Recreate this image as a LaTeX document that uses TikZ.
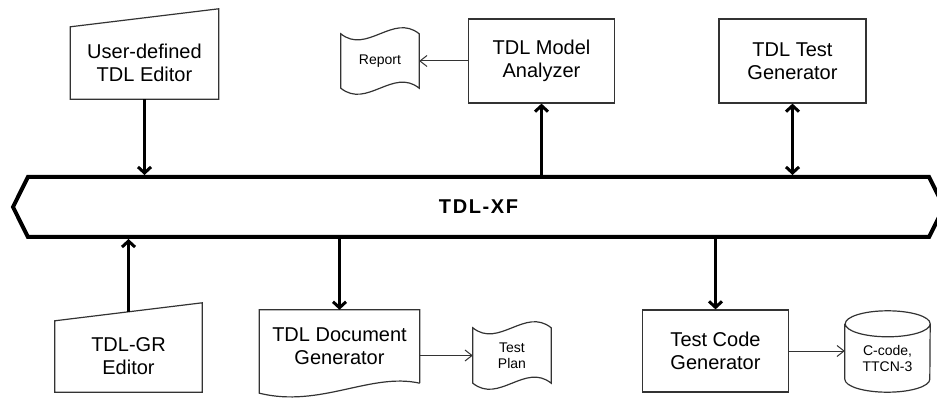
\documentclass[tikz,border=0pt]{standalone}
\usepackage{fontspec}
\setmainfont{Liberation Sans}
\usetikzlibrary{arrows.meta,shapes.symbols,calc}

\begin{document}
\begin{tikzpicture}[x=1pt,y=-1pt,
    boxtext/.style={align=center, font=\fontsize{20}{23}\selectfont},
    smalltext/.style={align=center, font=\fontsize{14}{16}\selectfont},
    outline/.style={draw=black!80, line width=1.2pt},
    box/.style={boxtext, outline},
    bigarrow/.style={line width=3pt, >={Straight Barb[length=6pt,width=13pt]}},
    thinarrow/.style={line width=1pt, black!80, >={Straight Barb[length=7pt,width=11pt]}}]

    \useasboundingbox (0,0) rectangle (937,398);

    % the bus
    \node[signal, signal to=west and east, signal pointer angle=127, draw, line width=4pt,
        minimum width=931pt, minimum height=60pt,
        font=\bfseries\fontsize{20}{23}\selectfont\addfontfeature{LetterSpace=8}] (bus) at (478.5,207) {TDL-XF};

    % top row
    \node[boxtext, minimum width=148pt, minimum height=72pt] (ued) at (144.5,63) {User-defined\\TDL Editor};
    \draw[outline] (ued.south west) -- (ued.south east) -- ($(ued.north east)+(0,-18)$) -- (ued.north west) -- cycle;
    \node[smalltext, minimum width=78pt, minimum height=54pt] (rep) at (380,61) {Report};
    \draw[outline] (rep.north west) .. controls +(26,21) and +(-26,-21) .. (rep.north east) -- (rep.south east)
        .. controls +(-26,-21) and +(26,21) .. (rep.south west) -- cycle;
    \node[box, minimum width=146pt, minimum height=84pt] (tma) at (541.5,61) {TDL Model\\Analyzer};
    \node[box, minimum width=147pt, minimum height=84pt] (ttg) at (792.5,61) {TDL Test\\Generator};

    % bottom row
    \node[boxtext, minimum width=147pt, minimum height=71pt] (gre) at (128.5,356.5) {TDL-GR\\Editor};
    \draw[outline] (gre.south west) -- (gre.south east) -- ($(gre.north east)+(0,-18)$) -- (gre.north west) -- cycle;
    \node[boxtext, minimum width=160pt, minimum height=73pt] (tdg) at (339.5,346.5) {TDL Document\\Generator};
    \draw[outline] (tdg.south east) -- (tdg.north east) -- (tdg.north west) -- ($(tdg.south west)+(0,10)$)
        .. controls +(61,15) and +(-49,-11) .. (tdg.south east);
    \node[smalltext, minimum width=78pt, minimum height=55pt] (tp) at (512,355.5) {Test\\Plan};
    \draw[outline] (tp.north west) .. controls +(26,21) and +(-26,-21) .. (tp.north east) -- (tp.south east)
        .. controls +(-26,-21) and +(26,21) .. (tp.south west) -- cycle;
    \node[box, minimum width=146pt, minimum height=82pt] (tcg) at (715.5,351) {Test Code\\Generator};
    \node[smalltext, minimum width=85pt, minimum height=68pt] (cyl) at (887.5,358) {C-code,\\TTCN-3};
    \draw[outline] (cyl.north west) -- ($(cyl.south west)+(0,-13)$) arc[start angle=180, end angle=360, x radius=42.5pt, y radius=13pt]
        -- (cyl.north east) arc[start angle=0, end angle=360, x radius=42.5pt, y radius=13pt];

    % connectors
    \coordinate (gretop) at ($(gre.north)+(0,-9)$);
    \draw[bigarrow,->] (ued.south) -- (ued.south |- bus.north);
    \draw[bigarrow,->] (gretop) -- (gretop |- bus.south);
    \draw[bigarrow,->] (tma.south |- bus.north) -- (tma.south);
    \draw[bigarrow,<->] (ttg.south |- bus.north) -- (ttg.south);
    \draw[bigarrow,->] (tdg.north |- bus.south) -- (tdg.north);
    \draw[bigarrow,->] (tcg.north |- bus.south) -- (tcg.north);
    \draw[thinarrow,->] (tma.west) -- (tma.west -| rep.east);
    \draw[thinarrow,->] (tdg.east |- tp) -- (tp.west);
    \draw[thinarrow,->] (tcg.east) -- (tcg.east -| cyl.west);
\end{tikzpicture}
\end{document}
